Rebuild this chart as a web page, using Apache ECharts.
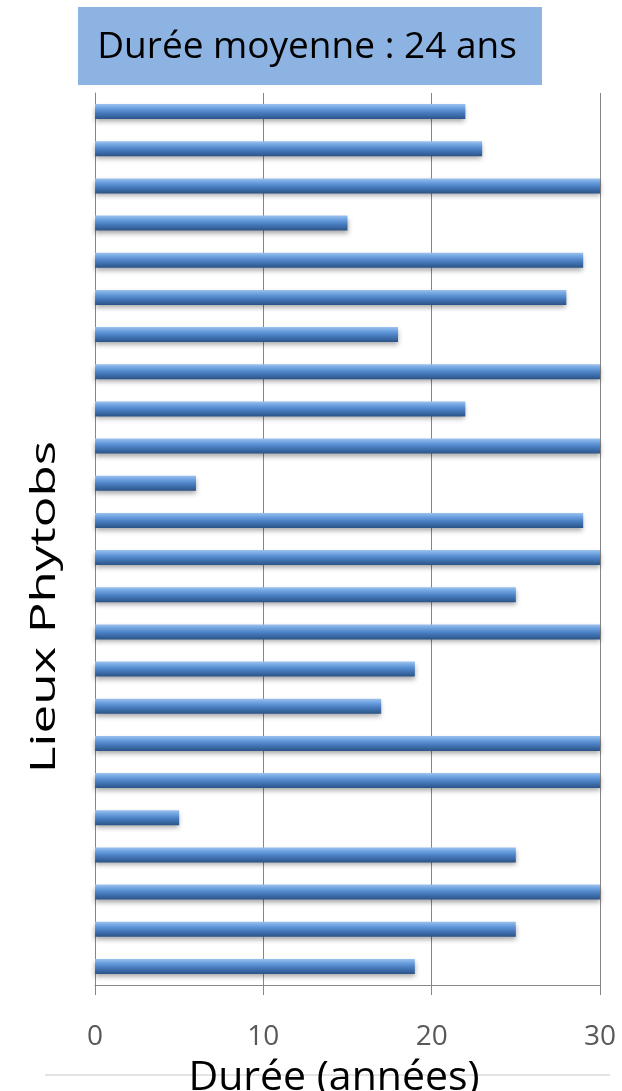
<!DOCTYPE html>
<html>
<head>
<meta charset="utf-8">
<script src="https://cdn.jsdelivr.net/npm/echarts@6/dist/echarts.min.js"></script>
<style>
html,body{margin:0;padding:0;background:#fff;}
#chart{width:622px;height:1091px;}
</style>
</head>
<body>
<div id="chart"></div>
<script>
var categories = ['L1','L2','L3','L4','L5','L6','L7','L8','L9','L10','L11','L12','L13','L14','L15','L16','L17','L18','L19','L20','L21','L22','L23','L24'];
var durations = [22,23,30,15,29,28,18,30,22,30,6,29,30,25,30,19,17,30,30,5,25,30,25,19];
var xTicks = [0,10,20,30];
var titleText = 'Durée moyenne : 24 ans';
var xName = 'Durée (années)';
var yName = 'Lieux Phytobs';

var chart = echarts.init(document.getElementById('chart'));
var font = '"Open Sans", "Noto Sans", sans-serif';
chart.setOption({
  animation: false,
  backgroundColor: '#ffffff',
  grid: {left: 95, right: 22, top: 93, bottom: 106, containLabel: false, outerBoundsMode: 'none'},
  graphic: [
    {type: 'rect', shape: {x: 78, y: 7, width: 464, height: 78}, style: {fill: '#8db3e2'}, z: 10},
    {type: 'text', x: 307, y: 47, style: {text: titleText, font: '37px ' + font, fill: '#000', textAlign: 'center', textVerticalAlign: 'middle'}, z: 11},
    {type: 'line', shape: {x1: 45, y1: 1075, x2: 610, y2: 1075}, style: {stroke: '#c8c8c8', lineWidth: 1}, z: 0},
    {type: 'text', x: 45, y: 607, rotation: Math.PI / 2, scaleX: 1.6, scaleY: 1.1,
     style: {text: yName, font: '32px ' + font, fill: '#000', textAlign: 'center', textVerticalAlign: 'middle'}, z: 11}
  ],
  xAxis: {
    type: 'value', min: xTicks[0], max: xTicks[xTicks.length-1], interval: 10,
    axisLine: {show: true, lineStyle: {color: '#868686', width: 1}},
    axisTick: {show: true, length: 10, lineStyle: {color: '#868686'}},
    splitLine: {show: true, lineStyle: {color: '#868686', width: 1}},
    axisLabel: {fontSize: 28, color: '#595959', fontFamily: font, margin: 38},
    name: xName, nameLocation: 'middle', nameGap: 73,
    nameTextStyle: {fontSize: 41, color: '#000', fontFamily: font, padding: [0, 27, 0, 0]}
  },
  yAxis: {
    type: 'category', data: categories, inverse: true,
    axisLine: {show: true, lineStyle: {color: '#868686'}},
    axisTick: {show: false},
    axisLabel: {show: false}
  },
  series: [{
    type: 'bar', data: durations, barWidth: 15,
    itemStyle: {
      color: new echarts.graphic.LinearGradient(0, 0, 0, 1, [
        {offset: 0, color: '#9cc2ee'},
        {offset: 0.25, color: '#6ea2e0'},
        {offset: 0.55, color: '#4a7fc3'},
        {offset: 1, color: '#2b5386'}
      ]),
      shadowColor: 'rgba(0,0,0,0.35)', shadowBlur: 5, shadowOffsetY: 3
    }
  }]
});
</script>
</body>
</html>
